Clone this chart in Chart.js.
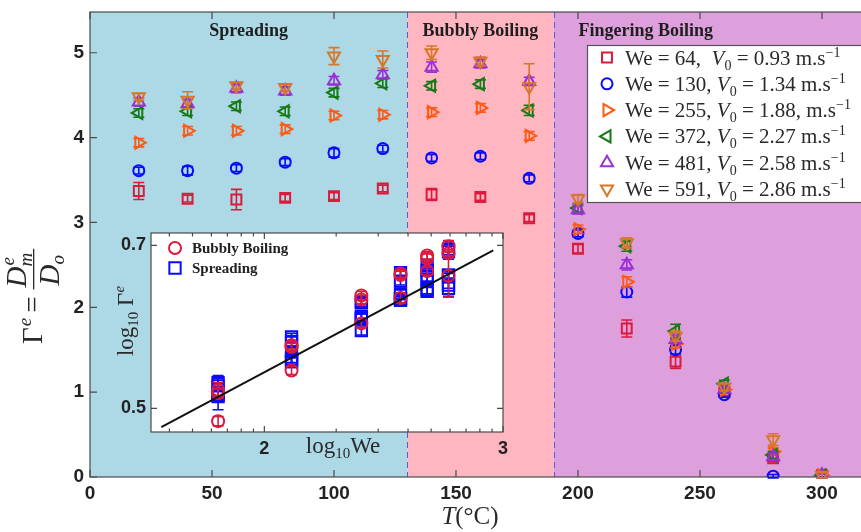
<!DOCTYPE html>
<html>
<head>
<meta charset="utf-8">
<script src="https://cdn.jsdelivr.net/npm/chart.js@4/dist/chart.umd.min.js"></script>
<style>
  html, body { margin: 0; padding: 0; background: #fff; }
  #wrap { position: relative; width: 861px; height: 532px; overflow: hidden; }
  #main { position: absolute; left: 0; top: 0; }
  #inset { position: absolute; left: 100px; top: 220px; }
</style>
</head>
<body>
<div id="wrap">
  <canvas id="main" width="861" height="532"></canvas>
  <canvas id="inset" width="415" height="250"></canvas>
</div>
<script>
// temperatures (°C)
const temps = [20, 40, 60, 80, 100, 120, 140, 160, 180, 200, 220, 240, 260, 280, 300];

// Gamma^e for each Weber number, and error half-widths
const gamma64  = [3.37, 3.28, 3.27, 3.29, 3.31, 3.40, 3.33, 3.30, 3.05, 2.69, 1.75, 1.36, 1.00, 0.22, 0.02];
const gamma130 = [3.61, 3.61, 3.64, 3.71, 3.82, 3.87, 3.76, 3.78, 3.52, 2.87, 2.18, 1.50, 0.97, 0.01, 0.02];
const gamma255 = [3.94, 4.08, 4.08, 4.10, 4.26, 4.27, 4.30, 4.35, 4.02, 2.92, 2.30, 1.57, 1.03, 0.30, 0.02];
const gamma372 = [4.29, 4.31, 4.37, 4.31, 4.53, 4.64, 4.61, 4.63, 4.32, 3.17, 2.72, 1.72, 1.10, 0.26, 0.02];
const gamma481 = [4.42, 4.40, 4.58, 4.55, 4.67, 4.74, 4.83, 4.87, 4.66, 3.15, 2.50, 1.62, 1.03, 0.24, 0.02];
const gamma591 = [4.48, 4.44, 4.61, 4.59, 4.96, 4.92, 5.00, 4.90, 4.60, 3.28, 2.76, 1.66, 1.06, 0.44, 0.02];

const err64  = [0.10, 0.04, 0.12, 0.04, 0.04, 0.04, 0.07, 0.04, 0.04, 0.05, 0.10, 0.08, 0.04, 0.04, 0.03];
const err130 = [0.04, 0.05, 0.04, 0.04, 0.05, 0.04, 0.04, 0.04, 0.04, 0.04, 0.06, 0.05, 0.03, 0.02, 0.02];
const err255 = [0.05, 0.05, 0.05, 0.05, 0.05, 0.05, 0.05, 0.05, 0.05, 0.05, 0.06, 0.05, 0.04, 0.04, 0.03];
const err372 = [0.05, 0.05, 0.05, 0.05, 0.05, 0.05, 0.05, 0.05, 0.06, 0.05, 0.06, 0.08, 0.04, 0.04, 0.03];
const err481 = [0.05, 0.05, 0.05, 0.05, 0.05, 0.05, 0.06, 0.05, 0.05, 0.05, 0.06, 0.05, 0.04, 0.04, 0.03];
const err591 = [0.04, 0.10, 0.04, 0.04, 0.10, 0.10, 0.08, 0.05, 0.27, 0.05, 0.06, 0.06, 0.04, 0.07, 0.03];

const weNumbers = [64, 130, 255, 372, 481, 591];
const v0Labels = ['0.93', '1.34', '1.88,', '2.27', '2.58', '2.86'];

// regime boundaries (°C) and names
const regionEdges = [0, 130, 190, 316];
const regionNames = ['Spreading', 'Bubbly Boiling', 'Fingering Boiling'];

// x / y ticks
const xTicks = [0, 50, 100, 150, 200, 250, 300];
const yTicks = [0, 1, 2, 3, 4, 5];

// inset: which temperature indices belong to each regime
const spreadIdx = [0, 1, 2, 3, 4, 5];
const bubblyIdx = [6, 7, 8];
// power-law fit end points (We, Gamma)
const fitWe = [37, 910];
const fitGamma = [3.0, 4.94];
const insetXTicks = [2, 3];      // log10 We
const insetYTicks = [0.5, 0.7];  // log10 Gamma
const insetMinor = [40, 50, 60, 70, 80, 90, 200, 300, 400, 500, 600, 700, 800, 900];

const series = [gamma64, gamma130, gamma255, gamma372, gamma481, gamma591];
const errs = [err64, err130, err255, err372, err481, err591];
const colors = ['#dc1a3c', '#0a0aff', '#ff5a14', '#167a16', '#9b2fd6', '#d6782a'];
const shapes = [
  { style: 'rect', rot: 0, r: 7 },
  { style: 'circle', rot: 0, r: 5.5 },
  { style: 'triangle', rot: 90, r: 7 },
  { style: 'triangle', rot: -90, r: 7 },
  { style: 'triangle', rot: 0, r: 7 },
  { style: 'triangle', rot: 180, r: 7 }
];
const regionFill = ['#add8e6', '#ffb6c1', '#dda0dd'];
const SERIF = "'Liberation Serif', 'DejaVu Serif', serif";
const SANS = "'Liberation Sans', Arial, sans-serif";

function rich(ctx, x, y, parts, align) {
  let w = 0;
  parts.forEach(p => { ctx.font = p[1]; w += ctx.measureText(p[0]).width; });
  let cx = align === 'center' ? x - w / 2 : x;
  ctx.textAlign = 'left';
  parts.forEach(p => {
    ctx.font = p[1];
    ctx.fillText(p[0], cx, y + (p[2] || 0));
    cx += ctx.measureText(p[0]).width;
  });
  return w;
}

function marker(ctx, shape, color, x, y) {
  ctx.save();
  ctx.strokeStyle = color;
  ctx.lineWidth = 2;
  ctx.beginPath();
  if (shape.style === 'circle') {
    ctx.arc(x, y, shape.r, 0, Math.PI * 2);
  } else if (shape.style === 'rect') {
    const s = shape.r * Math.SQRT1_2;
    ctx.rect(x - s, y - s, 2 * s, 2 * s);
  } else {
    const a0 = shape.rot * Math.PI / 180;
    for (let k = 0; k < 3; k++) {
      const a = a0 + k * 2 * Math.PI / 3;
      const px = x + Math.sin(a) * shape.r, py = y - Math.cos(a) * shape.r;
      k ? ctx.lineTo(px, py) : ctx.moveTo(px, py);
    }
    ctx.closePath();
  }
  ctx.stroke();
  ctx.restore();
}

function errorBar(ctx, x, yTop, yBot, color, cap) {
  ctx.save();
  ctx.strokeStyle = color;
  ctx.lineWidth = 1.6;
  ctx.beginPath();
  ctx.moveTo(x, yTop); ctx.lineTo(x, yBot);
  ctx.moveTo(x - cap, yTop); ctx.lineTo(x + cap, yTop);
  ctx.moveTo(x - cap, yBot); ctx.lineTo(x + cap, yBot);
  ctx.stroke();
  ctx.restore();
}

const mainDecor = {
  id: 'mainDecor',
  beforeDatasetsDraw(chart) {
    const { ctx, chartArea: a, scales: { x, y } } = chart;
    ctx.save();
    for (let i = 0; i < regionEdges.length - 1; i++) {
      const x0 = x.getPixelForValue(regionEdges[i]);
      const x1 = i === regionEdges.length - 2 ? a.right + 5 : x.getPixelForValue(regionEdges[i + 1]);
      ctx.fillStyle = regionFill[i];
      ctx.fillRect(x0, a.top, x1 - x0, a.bottom - a.top);
    }
    ctx.strokeStyle = '#5b5bd6';
    ctx.lineWidth = 1;
    ctx.setLineDash([6, 4]);
    for (let i = 1; i < regionEdges.length - 1; i++) {
      const px = Math.round(x.getPixelForValue(regionEdges[i])) + 0.5;
      ctx.beginPath(); ctx.moveTo(px, a.top); ctx.lineTo(px, a.bottom); ctx.stroke();
    }
    ctx.setLineDash([]);
    // frame + inward ticks
    ctx.strokeStyle = '#4a4a4a';
    ctx.lineWidth = 1.2;
    ctx.strokeRect(a.left, a.top, a.right - a.left + 6, a.bottom - a.top);
    ctx.beginPath();
    xTicks.forEach(v => {
      const px = x.getPixelForValue(v);
      ctx.moveTo(px, a.bottom); ctx.lineTo(px, a.bottom - 7);
      ctx.moveTo(px, a.top); ctx.lineTo(px, a.top + 7);
    });
    yTicks.forEach(v => {
      const py = y.getPixelForValue(v);
      ctx.moveTo(a.left, py); ctx.lineTo(a.left + 7, py);
    });
    ctx.stroke();
    // regime names
    ctx.fillStyle = '#1e1e1e';
    ctx.font = 'bold 18px ' + SERIF;
    ctx.textBaseline = 'alphabetic';
    for (let i = 0; i < regionNames.length; i++) {
      const x0 = x.getPixelForValue(regionEdges[i]);
      const x1 = x.getPixelForValue(regionEdges[i + 1]);
      if (i < regionNames.length - 1) {
        ctx.textAlign = 'center';
        ctx.fillText(regionNames[i], (x0 + x1) / 2, 36);
      } else {
        ctx.textAlign = 'left';
        ctx.fillText(regionNames[i], x0 + 25, 36);
      }
    }
    ctx.restore();
  },
  beforeDatasetDraw(chart, args) {
    const ds = chart.data.datasets[args.index];
    if (!ds.errors) return;
    const { ctx, scales: { x, y } } = chart;
    ds.data.forEach((p, i) => {
      const e = ds.errors[i];
      errorBar(ctx, x.getPixelForValue(p.x), y.getPixelForValue(p.y + e), y.getPixelForValue(p.y - e), ds.borderColor, 5.5);
    });
  },
  afterDraw(chart) {
    const { ctx } = chart;
    ctx.save();
    ctx.textBaseline = 'alphabetic';
    // legend
    const lx = 587, ly = 45, lw = 290, lh = 157;
    ctx.fillStyle = '#fff';
    ctx.fillRect(lx, ly, lw, lh);
    ctx.strokeStyle = '#555';
    ctx.lineWidth = 1.2;
    ctx.strokeRect(lx + 0.5, ly + 0.5, lw, lh);
    ctx.fillStyle = '#2a2a2a';
    weNumbers.forEach((we, i) => {
      const cy = 57.5 + i * 26.3;
      marker(ctx, shapes[i], colors[i], 607, cy);
      const f = '21px ' + SERIF, fi = 'italic 21px ' + SERIF, fs = '14px ' + SERIF;
      rich(ctx, 625, cy + 7, [
        ['We = ' + we + ',' + (i === 0 ? '  ' : ' '), f],
        ['V', fi], ['0', fs, 5],
        [' = ' + v0Labels[i] + ' m.s', f], ['\u22121', fs, -8]
      ]);
    });
    // x title
    rich(ctx, 470, 524, [['T', 'italic 25px ' + SERIF], ['(\u00B0C)', '25px ' + SERIF]], 'center');
    // y title (rotated)
    ctx.translate(32, 262);
    ctx.rotate(-Math.PI / 2);
    const F = 29, big = F + 'px ' + SERIF, bigI = 'italic ' + F + 'px ' + SERIF, sm = 'italic 19px ' + SERIF;
    ctx.font = big;
    let u = -82;
    ctx.fillText('\u0393', u, 10); u += ctx.measureText('\u0393').width;
    ctx.font = sm; ctx.fillText('e', u + 1, -1); u += ctx.measureText('e').width + 6;
    ctx.font = big; ctx.fillText('=', u, 10); u += ctx.measureText('=').width + 7;
    ctx.font = bigI;
    const dw = ctx.measureText('D').width;
    ctx.font = sm;
    const sw = ctx.measureText('m').width;
    const fw = dw + sw + 4;
    ctx.font = bigI; ctx.fillText('D', u + 2, -6);
    ctx.font = sm; ctx.fillText('e', u + 2 + dw + 1, -18); ctx.fillText('m', u + 2 + dw, 0);
    ctx.fillRect(u, 1, fw + 2, 1.3);
    ctx.font = bigI; ctx.fillText('D', u + 4, 27);
    ctx.font = sm; ctx.fillText('o', u + 4 + dw, 32);
    ctx.restore();
  }
};

const mainDatasets = series.map((vals, k) => ({
  label: 'We = ' + weNumbers[k],
  data: temps.map((t, i) => ({ x: t, y: vals[i] })),
  errors: errs[k],
  borderColor: colors[k],
  backgroundColor: 'rgba(0,0,0,0)',
  pointStyle: shapes[k].style,
  pointRotation: shapes[k].rot,
  pointRadius: shapes[k].r,
  pointBorderWidth: 2,
  showLine: false,
  order: 5 - k
}));

const tickFont = { family: SANS, weight: 'bold', size: 19 };

new Chart(document.getElementById('main'), {
  type: 'scatter',
  data: { datasets: mainDatasets },
  options: {
    responsive: false,
    animation: false,
    events: [],
    layout: { autoPadding: false, padding: { top: 12, right: 0, left: 0, bottom: 0 } },
    plugins: { legend: { display: false }, tooltip: { enabled: false } },
    scales: {
      x: {
        type: 'linear', min: regionEdges[0], max: regionEdges[regionEdges.length - 1],
        afterBuildTicks: s => { s.ticks = xTicks.map(v => ({ value: v })); },
        ticks: { font: tickFont, color: '#222', padding: 5, maxRotation: 0, autoSkip: false, includeBounds: false },
        grid: { display: false, drawTicks: false },
        border: { display: false },
        afterFit: s => { s.height = 55; s.paddingLeft = 0; s.paddingRight = 0; }
      },
      y: {
        min: 0, max: 5.48,
        afterBuildTicks: s => { s.ticks = yTicks.map(v => ({ value: v })); },
        ticks: { font: tickFont, color: '#222', padding: 6, includeBounds: false },
        grid: { display: false, drawTicks: false },
        border: { display: false },
        afterFit: s => { s.width = 90; s.paddingTop = 0; s.paddingBottom = 0; }
      }
    }
  },
  plugins: [mainDecor]
});

// ---------- inset ----------
const spreadPts = [], spreadErr = [], bubblyPts = [], bubblyErr = [];
series.forEach((vals, k) => {
  spreadIdx.forEach(i => { spreadPts.push({ x: weNumbers[k], y: vals[i] }); spreadErr.push(errs[k][i]); });
  bubblyIdx.forEach(i => { bubblyPts.push({ x: weNumbers[k], y: vals[i] }); bubblyErr.push(errs[k][i]); });
});

const insetDecor = {
  id: 'insetDecor',
  beforeDraw(chart) {
    const { ctx, chartArea: a } = chart;
    ctx.save();
    ctx.fillStyle = '#fff';
    ctx.fillRect(a.left, a.top, a.right - a.left, a.bottom - a.top);
    ctx.restore();
  },
  beforeDatasetsDraw(chart) {
    const { ctx, chartArea: a, scales: { x, y } } = chart;
    ctx.save();
    ctx.strokeStyle = '#4a4a4a';
    ctx.lineWidth = 1.2;
    ctx.strokeRect(a.left, a.top, a.right - a.left, a.bottom - a.top);
    ctx.beginPath();
    insetXTicks.forEach(v => {
      const px = x.getPixelForValue(Math.pow(10, v));
      ctx.moveTo(px, a.bottom); ctx.lineTo(px, a.bottom - 6);
      ctx.moveTo(px, a.top); ctx.lineTo(px, a.top + 6);
    });
    insetMinor.forEach(v => {
      const px = x.getPixelForValue(v);
      ctx.moveTo(px, a.bottom); ctx.lineTo(px, a.bottom - 3.5);
      ctx.moveTo(px, a.top); ctx.lineTo(px, a.top + 3.5);
    });
    insetYTicks.forEach(v => {
      const py = y.getPixelForValue(Math.pow(10, v));
      ctx.moveTo(a.left, py); ctx.lineTo(a.left + 6, py);
      ctx.moveTo(a.right, py); ctx.lineTo(a.right - 6, py);
    });
    ctx.stroke();
    ctx.restore();
  },
  beforeDatasetDraw(chart, args) {
    const ds = chart.data.datasets[args.index];
    if (!ds.errors) return;
    const { ctx, scales: { x, y } } = chart;
    ds.data.forEach((p, i) => {
      const e = ds.errors[i];
      errorBar(ctx, x.getPixelForValue(p.x), y.getPixelForValue(p.y + e), y.getPixelForValue(p.y - e), ds.borderColor, 5.5);
    });
  },
  afterDraw(chart) {
    const { ctx, chartArea: a } = chart;
    ctx.save();
    ctx.textBaseline = 'alphabetic';
    // legend
    marker(ctx, { style: 'circle', rot: 0, r: 6 }, colors[0], a.left + 24, a.top + 15);
    marker(ctx, { style: 'rect', rot: 0, r: 8 }, colors[1], a.left + 24, a.top + 35);
    ctx.fillStyle = '#222';
    ctx.font = 'bold 15px ' + SERIF;
    ctx.textAlign = 'left';
    ctx.fillText(regionNames[1], a.left + 41, a.top + 20);
    ctx.fillText(regionNames[0], a.left + 41, a.top + 40);
    // x title
    ctx.fillStyle = '#2a2a2a';
    rich(ctx, 243, 233, [['log', '23px ' + SERIF], ['10', '15px ' + SERIF, 5], ['We', '23px ' + SERIF]], 'center');
    // y title
    ctx.translate(33, 101);
    ctx.rotate(-Math.PI / 2);
    rich(ctx, 0, 0, [['log', '23px ' + SERIF], ['10', '15px ' + SERIF, 5], [' \u0393', '23px ' + SERIF], ['e', 'italic 15px ' + SERIF, -9]], 'center');
    ctx.restore();
  }
};

new Chart(document.getElementById('inset'), {
  type: 'scatter',
  data: {
    datasets: [
      {
        label: 'fit', type: 'line',
        data: fitWe.map((w, i) => ({ x: w, y: fitGamma[i] })),
        borderColor: '#111', borderWidth: 2, pointRadius: 0, showLine: true, fill: false
      },
      {
        label: regionNames[1],
        data: bubblyPts, errors: bubblyErr,
        borderColor: colors[0], backgroundColor: 'rgba(0,0,0,0)',
        pointStyle: 'circle', pointRadius: 6, pointBorderWidth: 2
      },
      {
        label: regionNames[0],
        data: spreadPts, errors: spreadErr,
        borderColor: colors[1], backgroundColor: 'rgba(0,0,0,0)',
        pointStyle: 'rect', pointRadius: 8, pointBorderWidth: 2
      }
    ]
  },
  options: {
    responsive: false,
    animation: false,
    events: [],
    layout: { autoPadding: false, padding: { top: 13, right: 12, left: 0, bottom: 0 } },
    plugins: { legend: { display: false }, tooltip: { enabled: false } },
    scales: {
      x: {
        type: 'logarithmic', min: 33.5, max: 1000,
        afterBuildTicks: s => { s.ticks = insetXTicks.map(v => ({ value: Math.pow(10, v) })); },
        ticks: { font: { family: SANS, weight: 'bold', size: 18 }, color: '#222', padding: 6, maxRotation: 0, autoSkip: false,
                 callback: (v, i) => String(insetXTicks[i]) },
        grid: { display: false, drawTicks: false },
        border: { display: false },
        afterFit: s => { s.height = 38; s.paddingLeft = 0; s.paddingRight = 0; }
      },
      y: {
        type: 'logarithmic', min: 2.958, max: 5.19,
        afterBuildTicks: s => { s.ticks = insetYTicks.map(v => ({ value: Math.pow(10, v) })); },
        ticks: { font: { family: SANS, weight: 'bold', size: 18 }, color: '#222', padding: 5, autoSkip: false,
                 callback: (v, i) => insetYTicks[i].toFixed(1) },
        grid: { display: false, drawTicks: false },
        border: { display: false },
        afterFit: s => { s.width = 51; s.paddingTop = 0; s.paddingBottom = 0; }
      }
    }
  },
  plugins: [insetDecor]
});
</script>
</body>
</html>
